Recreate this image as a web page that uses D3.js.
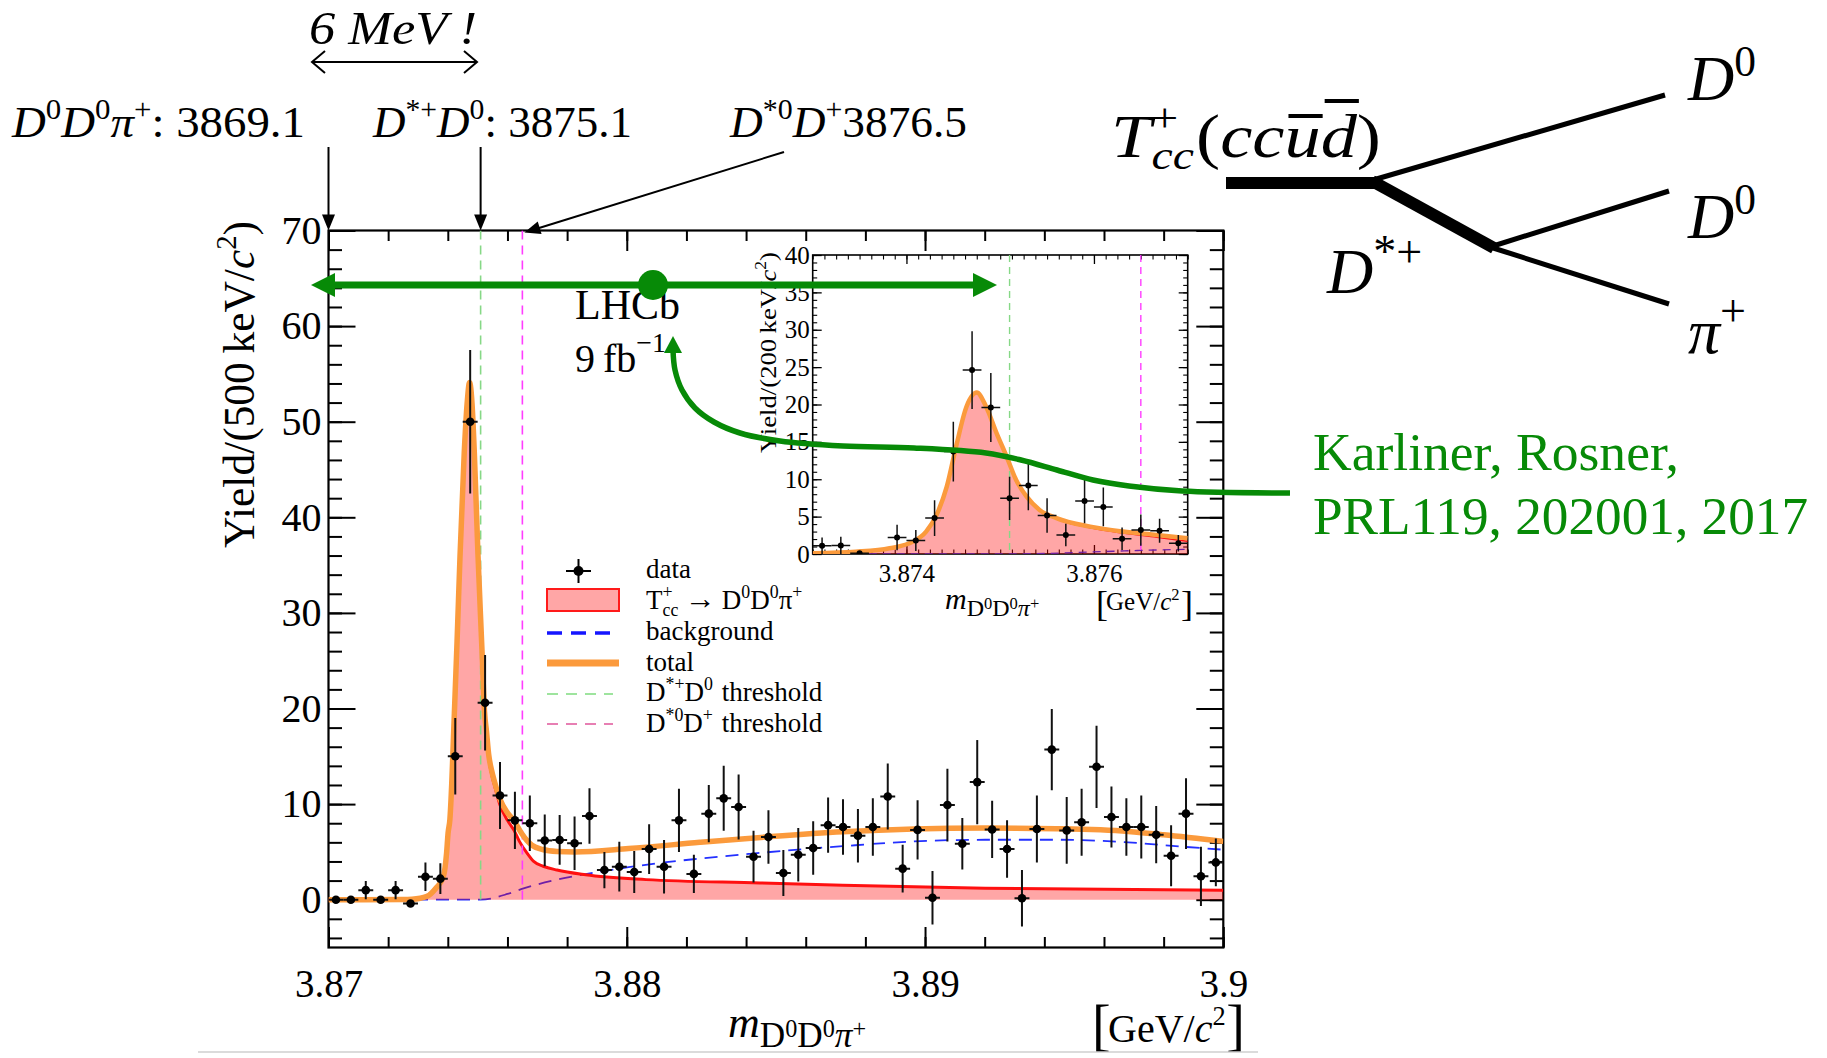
<!DOCTYPE html>
<html><head><meta charset="utf-8">
<script src="https://cdn.jsdelivr.net/npm/d3@7/dist/d3.min.js"></script>
<style>
html,body{margin:0;padding:0;background:#fff;}
svg{display:block;}
text{font-family:"Liberation Serif","Times New Roman",Times,serif;fill:#000;}
</style></head>
<body>
<svg id="chart" width="1827" height="1058"></svg>
<script>
// ================= DATA =================
const mainMassRange = [3.870, 3.900];
const mainBinWidth = 0.0005;
const mainYieldRange = [-5, 70];
const mainXTickValues = [3.87, 3.88, 3.89, 3.90];
const mainXTickLabels = ["3.87", "3.88", "3.89", "3.9"];
const mainYTickValues = [0, 10, 20, 30, 40, 50, 60, 70];

const mainYield = [0, 0, 1.0, 0, 1.0, -0.4, 2.4, 2.2, 15.0, 50.0,
  20.6, 10.9, 8.3, 8.0, 6.2, 6.25, 5.9, 8.75, 3.1, 3.45,
  2.9, 5.3, 3.45, 8.3, 2.7, 9.0, 10.6, 9.7, 4.5, 6.55,
  2.8, 4.7, 5.4, 7.8, 7.6, 6.7, 7.6, 10.8, 3.25, 7.3,
  0.2, 9.9, 5.85, 12.3, 7.35, 5.3, 0.15, 7.4, 15.7, 7.25,
  8.1, 13.9, 8.65, 7.6, 7.6, 6.8, 4.6, 9.0, 2.45, 3.9];
const mainYieldErr = [0, 0, 0.95, 0, 0.95, 0.35, 1.5, 1.6, 4.0, 7.5,
  5.0, 3.5, 3.0, 2.9, 2.7, 2.6, 2.8, 2.9, 1.9, 2.6,
  2.2, 2.6, 2.8, 3.3, 2.0, 3.0, 3.4, 3.4, 2.7, 2.8,
  2.4, 2.8, 2.8, 2.9, 2.9, 2.8, 3.0, 3.45, 2.5, 3.1,
  2.8, 3.8, 2.7, 4.4, 3.0, 3.0, 2.95, 3.5, 4.25, 3.5,
  3.5, 4.3, 3.2, 3.0, 3.3, 3.0, 3.2, 3.7, 3.1, 2.5];

const mainSignalCurve = [[3.870,0],[3.8725,0.02],[3.8728,0.05],[3.8733,0.35],[3.8736,1.2],[3.87385,2.4],
  [3.87396,4.9],[3.87401,7.0],[3.87407,8.4],[3.87413,12],[3.87419,17],[3.87425,22],[3.87431,27],
  [3.87441,36],[3.87455,46.7],[3.87465,52],[3.87473,54.1],[3.87481,52],[3.87489,46.7],[3.87501,36.2],
  [3.87515,25.8],[3.87523,19.5],[3.8753,17.2],[3.87537,14.9],[3.87547,13.1],[3.87557,11.9],
  [3.87575,9.9],[3.876,8.3],[3.87623,7.2],[3.8764,6.1],[3.87665,4.9],[3.87688,4.0],[3.8772,3.5],
  [3.87766,3.1],[3.87862,2.6],[3.88065,2.1],[3.88446,1.75],[3.88724,1.5],[3.89202,1.2],[3.900,1.0]];
const mainTotalCurve = [[3.870,0],[3.8725,0.02],[3.8728,0.05],[3.8733,0.35],[3.8736,1.2],[3.87385,2.4],
  [3.87396,4.9],[3.87401,7.0],[3.87407,8.4],[3.87413,12],[3.87419,17],[3.87425,22],[3.87431,27],
  [3.87441,36],[3.87455,46.7],[3.87465,52],[3.87473,54.1],[3.87481,52],[3.87489,46.7],[3.87501,36.2],
  [3.87515,25.8],[3.87523,19.7],[3.8753,17.5],[3.87537,15.2],[3.87547,13.5],[3.87557,12.3],
  [3.87575,10.5],[3.876,9.1],[3.87623,8.2],[3.87646,7.0],[3.87665,6.2],[3.87682,5.7],[3.87718,5.25],
  [3.87766,5.05],[3.87826,5.0],[3.88006,5.35],[3.88245,6.0],[3.88484,6.6],[3.88724,7.1],
  [3.88963,7.4],[3.89202,7.5],[3.89441,7.42],[3.89681,7.14],[3.898,6.8],[3.900,6.1]];
const mainBackgroundCurve = [[3.8729,0],[3.8751,0],[3.876,0.6],[3.87646,1.1],[3.87766,2.1],
  [3.87886,2.8],[3.88006,3.4],[3.88125,3.9],[3.88245,4.3],[3.88413,4.8],[3.88724,5.6],
  [3.88963,6.1],[3.89202,6.27],[3.89441,6.27],[3.89681,6.0],[3.898,5.7],[3.900,5.23]];
const thresholdMasses = [3.8751, 3.8765];

const insetMassRange = [3.873, 3.877];
const insetBinWidth = 0.0002;
const insetYieldRange = [0, 40];
const insetXTickValues = [3.874, 3.876];
const insetXTickLabels = ["3.874", "3.876"];
const insetYTickValues = [0, 5, 10, 15, 20, 25, 30, 35, 40];
const insetYield = [1.1, 1.15, 0.1, null, 2.2, 1.8, 4.8, 13.7, 24.6, 19.6,
  7.45, 9.15, 5.15, 2.55, 7.1, 6.3, 2.05, 3.2, 3.1, 1.45];
const insetYieldErr = [1.1, 1.15, 0.1, 0, 1.7, 1.4, 2.4, 4.0, 5.2, 4.6,
  2.9, 3.3, 2.3, 1.5, 3.0, 2.6, 1.5, 2.1, 1.6, 1.1];
const insetTotalCurve = [[3.873,0.1],[3.87346,0.3],[3.87382,0.76],[3.87407,1.65],[3.87421,3.0],
  [3.87432,5.2],[3.87443,9.0],[3.87453,14.4],[3.87464,19.7],[3.87475,21.6],[3.87485,19.7],
  [3.87496,16.2],[3.87507,13.0],[3.87517,9.9],[3.87528,7.7],[3.87542,5.9],[3.8756,4.8],
  [3.87596,3.66],[3.87631,3.0],[3.87667,2.54],[3.877,2.1]];
const insetSignalCurve = [[3.873,0.1],[3.87346,0.3],[3.87382,0.76],[3.87407,1.65],[3.87421,3.0],
  [3.87432,5.2],[3.87443,9.0],[3.87453,14.4],[3.87464,19.7],[3.87475,21.6],[3.87485,19.7],
  [3.87496,16.2],[3.87507,13.0],[3.87517,9.85],[3.87528,7.6],[3.87542,5.8],[3.8756,4.68],
  [3.87596,3.5],[3.87631,2.8],[3.87667,2.25],[3.877,1.7]];
const insetBackgroundCurve = [[3.873,0],[3.8751,0],[3.8755,0.08],[3.876,0.28],[3.8765,0.48],[3.877,0.62]];

const citationLines = ["Karliner, Rosner,", "PRL119, 202001, 2017"];

// ================= HELPERS =================
const svg = d3.select('#chart');
const SERIF = '"Liberation Serif","Times New Roman",Times,serif';
const GREEN = '#078a07';
const ORANGE = '#fb9a3c';
const FILL = 'rgba(255,0,0,0.35)';

function rich(parent, x, y, size, segs, attrs) {
  const t = parent.append('text').attr('x', x).attr('y', y).attr('font-size', size);
  if (attrs) for (const k in attrs) t.attr(k, attrs[k]);
  let cur = 0;
  segs.forEach(s => {
    const off = (s.o || 0) * size;
    const sp = t.append('tspan').text(s.t).attr('font-size', (s.f || 1) * size);
    if (off !== cur) sp.attr('dy', off - cur);
    if (s.dx) sp.attr('dx', s.dx * size);
    if (s.i) sp.attr('font-style', 'italic');
    cur = off;
  });
  return t;
}
const N = t => ({t});
const I = t => ({t, i: 1});
const SP = (t, i, dx) => ({t, o: -0.42, f: 0.66, i, dx});
const SB = (t, i, dx) => ({t, o: 0.25, f: 0.66, i, dx});

function styleAxis(g, fs, sw) {
  g.select('.domain').remove();
  g.attr('font-size', fs).attr('font-family', SERIF);
  g.selectAll('line').attr('stroke', '#000').attr('stroke-width', sw);
}

function arrowHead(g, tip, from, len, half, color) {
  const dx = tip[0] - from[0], dy = tip[1] - from[1];
  const L = Math.hypot(dx, dy), ux = dx / L, uy = dy / L;
  const bx = tip[0] - ux * len, by = tip[1] - uy * len;
  g.append('path').attr('d', `M${tip[0]},${tip[1]}L${bx - uy * half},${by + ux * half}L${bx + uy * half},${by - ux * half}Z`)
    .attr('fill', color);
}

// ================= MAIN PLOT =================
const mx = d3.scaleLinear().domain(mainMassRange).range([328.5, 1223.3]);
const my = d3.scaleLinear().domain(mainYieldRange).range([947.5, 230.5]);
const [L0, R0] = mx.range(), [B0, T0] = my.range();

svg.append('defs').append('clipPath').attr('id', 'mainClip')
  .append('rect').attr('x', L0).attr('y', T0).attr('width', R0 - L0).attr('height', B0 - T0);

const main = svg.append('g');

main.append('g').attr('transform', `translate(0,${B0})`)
  .call(d3.axisBottom(mx).tickValues(mainXTickValues).tickFormat((d, i) => mainXTickLabels[i]).tickSize(-20.5).tickPadding(22))
  .call(g => styleAxis(g, 39, 2));
main.append('g').attr('transform', `translate(0,${B0})`)
  .call(d3.axisBottom(mx).ticks(15).tickFormat('').tickSize(-10.5))
  .call(g => styleAxis(g, 39, 2));
main.append('g').attr('transform', `translate(0,${T0})`)
  .call(d3.axisTop(mx).tickValues(mainXTickValues).tickFormat('').tickSize(-20.5))
  .call(g => styleAxis(g, 39, 2));
main.append('g').attr('transform', `translate(0,${T0})`)
  .call(d3.axisTop(mx).ticks(15).tickFormat('').tickSize(-10.5))
  .call(g => styleAxis(g, 39, 2));
main.append('g').attr('transform', `translate(${L0},0)`)
  .call(d3.axisLeft(my).tickValues(mainYTickValues).tickSize(-27).tickPadding(7))
  .call(g => styleAxis(g, 40, 2));
main.append('g').attr('transform', `translate(${L0},0)`)
  .call(d3.axisLeft(my).ticks(40).tickFormat('').tickSize(-13.5))
  .call(g => styleAxis(g, 39, 2));
main.append('g').attr('transform', `translate(${R0},0)`)
  .call(d3.axisRight(my).tickValues(mainYTickValues).tickFormat('').tickSize(-27))
  .call(g => styleAxis(g, 39, 2));
main.append('g').attr('transform', `translate(${R0},0)`)
  .call(d3.axisRight(my).ticks(40).tickFormat('').tickSize(-13.5))
  .call(g => styleAxis(g, 39, 2));
main.append('rect').attr('x', L0).attr('y', T0).attr('width', R0 - L0).attr('height', B0 - T0)
  .attr('fill', 'none').attr('stroke', '#000').attr('stroke-width', 2.2);

const plot = main.append('g').attr('clip-path', 'url(#mainClip)');
const mLine = d3.line().x(d => mx(d[0])).y(d => my(d[1])).curve(d3.curveMonotoneX);
const mArea = d3.area().x(d => mx(d[0])).y0(my(0)).y1(d => my(d[1])).curve(d3.curveMonotoneX);

plot.append('path').datum(mainBackgroundCurve).attr('d', mLine).attr('fill', 'none')
  .attr('stroke', '#2330ff').attr('stroke-width', 1.8).attr('stroke-dasharray', '13,8');
plot.append('path').datum(mainSignalCurve).attr('d', mArea).attr('fill', FILL);
plot.append('path').datum(mainSignalCurve).attr('d', mLine).attr('fill', 'none')
  .attr('stroke', '#ff1010').attr('stroke-width', 3);
plot.selectAll('line.thr').data(thresholdMasses).join('line').attr('class', 'thr')
  .attr('x1', d => mx(d)).attr('x2', d => mx(d)).attr('y1', my(70)).attr('y2', my(0))
  .attr('stroke', (d, i) => i === 0 ? '#86d886' : '#ff3cff').attr('stroke-width', 1.6)
  .attr('stroke-dasharray', '9,6');
plot.append('path').datum(mainTotalCurve).attr('d', mLine).attr('fill', 'none')
  .attr('stroke', ORANGE).attr('stroke-width', 5.5);

const mainPts = mainYield.map((v, i) => ({c: mainMassRange[0] + (i + 0.5) * mainBinWidth, v, e: mainYieldErr[i]}));
const dp = plot.append('g');
dp.selectAll('line.h').data(mainPts).join('line').attr('class', 'h')
  .attr('x1', d => mx(d.c - mainBinWidth / 2)).attr('x2', d => mx(d.c + mainBinWidth / 2))
  .attr('y1', d => my(d.v)).attr('y2', d => my(d.v)).attr('stroke', '#111').attr('stroke-width', 2);
dp.selectAll('line.v').data(mainPts.filter(d => d.e > 0)).join('line').attr('class', 'v')
  .attr('x1', d => mx(d.c)).attr('x2', d => mx(d.c))
  .attr('y1', d => my(d.v - d.e)).attr('y2', d => my(d.v + d.e)).attr('stroke', '#111').attr('stroke-width', 2);
dp.selectAll('circle').data(mainPts).join('circle')
  .attr('cx', d => mx(d.c)).attr('cy', d => my(d.v)).attr('r', 4.3).attr('fill', '#000');

// axis titles
rich(main, 0, 0, 44, [N('Yield/(500\u2009keV/'), I('c'), SP('2'), N(')')],
  {'text-anchor': 'end', transform: 'translate(254,221) rotate(-90)', textLength: 327, lengthAdjust: 'spacingAndGlyphs'});
rich(main, 728, 1037, 44, [I('m'), {t: 'D', o: 0.22, f: 0.8}, {t: '0', o: 0.0, f: 0.55},
  {t: 'D', o: 0.22, f: 0.8}, {t: '0', o: 0.0, f: 0.55}, {t: '\u03c0', o: 0.22, f: 0.8, i: 1}, {t: '+', o: 0.0, f: 0.55}]);
main.append('text').attr('x', 1092).attr('y', 1044).attr('font-size', 56).text('[');
rich(main, 1108, 1042, 40, [N('GeV/'), I('c'), SP('2')]);
main.append('text').attr('x', 1245).attr('y', 1044).attr('font-size', 56).attr('text-anchor', 'end').text(']');

// LHCb label
main.append('text').attr('x', 575).attr('y', 319).attr('font-size', 42).text('LHCb');
rich(main, 575, 372, 40, [N('9\u2009fb'), {t: '\u22121', o: -0.5, f: 0.7}]);

// legend
const lg = main.append('g');
const lgY = [571, 600, 633, 663, 694, 724];
const lgBase = [578, 609, 640, 671, 701, 732];
const lgX0 = 547, lgX1 = 619, lgTx = 646, lgFs = 27;
lg.append('line').attr('x1', 566).attr('x2', 591).attr('y1', lgY[0]).attr('y2', lgY[0]).attr('stroke', '#000').attr('stroke-width', 2);
lg.append('line').attr('x1', 578.5).attr('x2', 578.5).attr('y1', lgY[0] - 12).attr('y2', lgY[0] + 12).attr('stroke', '#000').attr('stroke-width', 2);
lg.append('circle').attr('cx', 578.5).attr('cy', lgY[0]).attr('r', 5).attr('fill', '#000');
lg.append('rect').attr('x', lgX0).attr('y', lgY[1] - 11).attr('width', lgX1 - lgX0).attr('height', 22)
  .attr('fill', FILL).attr('stroke', '#ff1a1a').attr('stroke-width', 2);
lg.append('line').attr('x1', lgX0).attr('x2', 613).attr('y1', lgY[2]).attr('y2', lgY[2])
  .attr('stroke', '#1515ff').attr('stroke-width', 3.5).attr('stroke-dasharray', '15,9');
lg.append('line').attr('x1', lgX0).attr('x2', lgX1).attr('y1', lgY[3]).attr('y2', lgY[3])
  .attr('stroke', ORANGE).attr('stroke-width', 7);
lg.append('line').attr('x1', lgX0).attr('x2', 613).attr('y1', lgY[4]).attr('y2', lgY[4])
  .attr('stroke', '#7fdc7f').attr('stroke-width', 1.6).attr('stroke-dasharray', '11,8');
lg.append('line').attr('x1', lgX0).attr('x2', 613).attr('y1', lgY[5]).attr('y2', lgY[5])
  .attr('stroke', '#e0559b').attr('stroke-width', 1.6).attr('stroke-dasharray', '11,8');
lg.append('text').attr('x', lgTx).attr('y', lgBase[0]).attr('font-size', lgFs).text('data');
rich(lg, lgTx, lgBase[1], lgFs, [N('T'), SP('+'), SB('cc', 0, -0.37), {t: '\u2009\u2192\u2009', f: 1.15}, N('D'), SP('0'), N('D'), SP('0'), N('\u03c0'), SP('+')]);
lg.append('text').attr('x', lgTx).attr('y', lgBase[2]).attr('font-size', lgFs).text('background');
lg.append('text').attr('x', lgTx).attr('y', lgBase[3]).attr('font-size', lgFs).text('total');
rich(lg, lgTx, lgBase[4], lgFs, [N('D'), SP('*+'), N('D'), SP('0'), N('\u2004threshold')]);
rich(lg, lgTx, lgBase[5], lgFs, [N('D'), SP('*0'), N('D'), SP('+'), N('\u2004threshold')]);

// ================= INSET =================
const ix = d3.scaleLinear().domain(insetMassRange).range([812.7, 1187.7]);
const iy = d3.scaleLinear().domain(insetYieldRange).range([554, 255]);
const [L1, R1] = ix.range(), [B1, T1] = iy.range();
svg.select('defs').append('clipPath').attr('id', 'insetClip')
  .append('rect').attr('x', L1).attr('y', T1).attr('width', R1 - L1).attr('height', B1 - T1);
const inset = svg.append('g');
const insetMinor = d3.range(insetMassRange[0], insetMassRange[1] + 1e-7, 0.000125);
inset.append('g').attr('transform', `translate(0,${B1})`)
  .call(d3.axisBottom(ix).tickValues(insetXTickValues).tickFormat((d, i) => insetXTickLabels[i]).tickSize(-9).tickPadding(10))
  .call(g => styleAxis(g, 25, 1.3));
inset.append('g').attr('transform', `translate(0,${B1})`)
  .call(d3.axisBottom(ix).tickValues(insetMinor).tickFormat('').tickSize(-4.5)).call(g => styleAxis(g, 25, 1.1));
inset.append('g').attr('transform', `translate(0,${T1})`)
  .call(d3.axisTop(ix).tickValues(insetXTickValues).tickFormat('').tickSize(-9)).call(g => styleAxis(g, 25, 1.3));
inset.append('g').attr('transform', `translate(0,${T1})`)
  .call(d3.axisTop(ix).tickValues(insetMinor).tickFormat('').tickSize(-4.5)).call(g => styleAxis(g, 25, 1.1));
inset.append('g').attr('transform', `translate(${L1},0)`)
  .call(d3.axisLeft(iy).tickValues(insetYTickValues).tickSize(-9).tickPadding(3)).call(g => styleAxis(g, 25, 1.3));
inset.append('g').attr('transform', `translate(${L1},0)`)
  .call(d3.axisLeft(iy).ticks(40).tickFormat('').tickSize(-4.5)).call(g => styleAxis(g, 25, 1.1));
inset.append('g').attr('transform', `translate(${R1},0)`)
  .call(d3.axisRight(iy).tickValues(insetYTickValues).tickFormat('').tickSize(-9)).call(g => styleAxis(g, 25, 1.3));
inset.append('g').attr('transform', `translate(${R1},0)`)
  .call(d3.axisRight(iy).ticks(40).tickFormat('').tickSize(-4.5)).call(g => styleAxis(g, 25, 1.1));
inset.append('rect').attr('x', L1).attr('y', T1).attr('width', R1 - L1).attr('height', B1 - T1)
  .attr('fill', 'none').attr('stroke', '#000').attr('stroke-width', 1.6);

const ip = inset.append('g').attr('clip-path', 'url(#insetClip)');
const iLine = d3.line().x(d => ix(d[0])).y(d => iy(d[1])).curve(d3.curveMonotoneX);
const iArea = d3.area().x(d => ix(d[0])).y0(iy(0)).y1(d => iy(d[1])).curve(d3.curveMonotoneX);
ip.append('path').datum(insetBackgroundCurve).attr('d', iLine).attr('fill', 'none')
  .attr('stroke', '#2330ff').attr('stroke-width', 1.3).attr('stroke-dasharray', '8,6');
ip.append('path').datum(insetSignalCurve).attr('d', iArea).attr('fill', FILL);
ip.append('path').datum(insetSignalCurve).attr('d', iLine).attr('fill', 'none').attr('stroke', '#ff1010').attr('stroke-width', 1.4);
ip.selectAll('line.thr').data(thresholdMasses).join('line').attr('class', 'thr')
  .attr('x1', d => ix(d)).attr('x2', d => ix(d)).attr('y1', T1).attr('y2', B1)
  .attr('stroke', (d, i) => i === 0 ? '#86d886' : '#ff3cff').attr('stroke-width', 1.4).attr('stroke-dasharray', '7,5');
ip.append('path').datum(insetTotalCurve).attr('d', iLine).attr('fill', 'none').attr('stroke', ORANGE).attr('stroke-width', 4.5);
const insetPts = insetYield.map((v, i) => ({c: insetMassRange[0] + (i + 0.5) * insetBinWidth, v, e: insetYieldErr[i]})).filter(d => d.v !== null);
ip.selectAll('line.h').data(insetPts).join('line').attr('class', 'h')
  .attr('x1', d => ix(d.c - insetBinWidth / 2)).attr('x2', d => ix(d.c + insetBinWidth / 2))
  .attr('y1', d => iy(d.v)).attr('y2', d => iy(d.v)).attr('stroke', '#111').attr('stroke-width', 1.5);
ip.selectAll('line.v').data(insetPts).join('line').attr('class', 'v')
  .attr('x1', d => ix(d.c)).attr('x2', d => ix(d.c))
  .attr('y1', d => iy(d.v - d.e)).attr('y2', d => iy(d.v + d.e)).attr('stroke', '#111').attr('stroke-width', 1.5);
ip.selectAll('circle').data(insetPts).join('circle')
  .attr('cx', d => ix(d.c)).attr('cy', d => iy(d.v)).attr('r', 3).attr('fill', '#000');

rich(inset, 0, 0, 24, [N('Yield/(200\u2009keV/'), I('c'), SP('2'), N(')')],
  {'text-anchor': 'end', transform: 'translate(776,252) rotate(-90)', textLength: 201, lengthAdjust: 'spacingAndGlyphs'});
rich(inset, 945, 609, 30, [I('m'), {t: 'D', o: 0.22, f: 0.8}, {t: '0', o: 0.0, f: 0.55},
  {t: 'D', o: 0.22, f: 0.8}, {t: '0', o: 0.0, f: 0.55}, {t: '\u03c0', o: 0.22, f: 0.8, i: 1}, {t: '+', o: 0.0, f: 0.55}]);
inset.append('text').attr('x', 1096).attr('y', 616).attr('font-size', 36).text('[');
rich(inset, 1106, 610, 25, [N('GeV/'), I('c'), SP('2')]);
inset.append('text').attr('x', 1193).attr('y', 616).attr('font-size', 36).attr('text-anchor', 'end').text(']');

// ================= TOP ANNOTATIONS =================
const ann = svg.append('g');
ann.append('text').attr('x', 309).attr('y', 44).attr('font-size', 47).attr('font-style', 'italic')
  .attr('textLength', 168).attr('lengthAdjust', 'spacingAndGlyphs').text('6 MeV !');
ann.append('line').attr('x1', 312).attr('x2', 477).attr('y1', 62).attr('y2', 62).attr('stroke', '#000').attr('stroke-width', 2);
ann.append('path').attr('d', 'M325,51L312,62L325,73M464,51L477,62L464,73').attr('fill', 'none').attr('stroke', '#000').attr('stroke-width', 2);

const labFs = 44;
rich(ann, 12, 137, labFs, [I('D'), SP('0'), I('D'), SP('0'), I('\u03c0'), SP('+'), N(': 3869.1')],
  {textLength: 293, lengthAdjust: 'spacingAndGlyphs'});
rich(ann, 373, 137, labFs, [I('D'), SP('*+'), I('D'), SP('0'), N(': 3875.1')],
  {textLength: 259, lengthAdjust: 'spacingAndGlyphs'});
rich(ann, 730, 137, labFs, [I('D'), SP('*0'), I('D'), SP('+'), N('3876.5')],
  {textLength: 237, lengthAdjust: 'spacingAndGlyphs'});

function annArrow(from, to) {
  const dx = to[0] - from[0], dy = to[1] - from[1], Lh = Math.hypot(dx, dy);
  const end = [to[0] - dx / Lh * 12, to[1] - dy / Lh * 12];
  ann.append('line').attr('x1', from[0]).attr('y1', from[1]).attr('x2', end[0]).attr('y2', end[1]).attr('stroke', '#000').attr('stroke-width', 2);
  arrowHead(ann, to, from, 16, 6.5, '#000');
}
annArrow([mx(3.87), 147], [mx(3.87), T0]);
annArrow([mx(thresholdMasses[0]), 147], [mx(thresholdMasses[0]), T0]);
annArrow([784, 152], [mx(thresholdMasses[1]) + 2, T0 + 2]);

// ================= DECAY DIAGRAM =================
const dg = svg.append('g');
dg.append('line').attr('x1', 1226).attr('y1', 183).attr('x2', 1376).attr('y2', 183).attr('stroke', '#000').attr('stroke-width', 12);
dg.append('line').attr('x1', 1372).attr('y1', 181).attr('x2', 1494).attr('y2', 248).attr('stroke', '#000').attr('stroke-width', 12);
dg.append('line').attr('x1', 1373).attr('y1', 180).attr('x2', 1665).attr('y2', 95).attr('stroke', '#000').attr('stroke-width', 5);
dg.append('line').attr('x1', 1490).attr('y1', 247).attr('x2', 1669).attr('y2', 191).attr('stroke', '#000').attr('stroke-width', 5);
dg.append('line').attr('x1', 1490).attr('y1', 247).attr('x2', 1669).attr('y2', 304).attr('stroke', '#000').attr('stroke-width', 5);

const dfs = 62;
const tcc = rich(dg, 1111, 157, dfs, [I('T'), {t: '+', o: -0.42, f: 0.66}, {t: 'cc', o: 0.2, f: 0.66, i: 1, dx: -0.37},
  {t: '(', dx: 0.03}, I('cc'), I('u'), I('d'), N(')')], {textLength: 270, lengthAdjust: 'spacingAndGlyphs'});
const qn = tcc.node();
// overlines above the anti-quarks u (char 7) and d (char 8)
[[7, 116], [8, 101]].forEach(([idx, yb]) => {
  try {
    const b = qn.getExtentOfChar(idx);
    dg.append('line').attr('x1', b.x + 4).attr('x2', b.x + b.width + 2).attr('y1', yb).attr('y2', yb).attr('stroke', '#000').attr('stroke-width', 4);
  } catch (e) {}
});
rich(dg, 1688, 100, 64, [I('D'), {t: '0', o: -0.38, f: 0.68}]);
rich(dg, 1688, 238, 64, [I('D'), {t: '0', o: -0.38, f: 0.68}]);
rich(dg, 1688, 353, 64, [I('\u03c0'), {t: '+', o: -0.42, f: 0.72}]);
rich(dg, 1327, 293, 64, [I('D'), {t: '*+', o: -0.4, f: 0.72}]);

// ================= GREEN OVERLAY =================
const gr = svg.append('g');
gr.append('line').attr('x1', 330).attr('x2', 978).attr('y1', 285).attr('y2', 285).attr('stroke', GREEN).attr('stroke-width', 7);
arrowHead(gr, [311, 285], [400, 285], 24, 12, GREEN);
arrowHead(gr, [997, 285], [900, 285], 24, 12, GREEN);
gr.append('circle').attr('cx', 653).attr('cy', 285).attr('r', 15).attr('fill', GREEN);
const greenCurvePts = [[673, 350], [675, 370], [682, 390], [695, 408], [714, 422], [740, 433], [780, 441],
  [843, 446], [914, 448], [986, 453], [1021, 460], [1057, 470], [1093, 480], [1129, 486], [1182, 491], [1290, 493]];
gr.append('path').datum(greenCurvePts).attr('d', d3.line().curve(d3.curveCatmullRom)).attr('fill', 'none')
  .attr('stroke', GREEN).attr('stroke-width', 5.5);
arrowHead(gr, [673, 336], [673, 400], 17, 9, GREEN);
const citeWidths = [366, 495];
citationLines.forEach((t, i) => {
  gr.append('text').attr('x', 1313).attr('y', 470 + i * 64).attr('font-size', 52).style('fill', GREEN)
    .attr('textLength', citeWidths[i]).attr('lengthAdjust', 'spacingAndGlyphs').text(t);
});

// bottom grey rule
svg.append('line').attr('x1', 198).attr('x2', 1258).attr('y1', 1052).attr('y2', 1052).attr('stroke', '#cfcfcf').attr('stroke-width', 1.5);
</script>
</body></html>
